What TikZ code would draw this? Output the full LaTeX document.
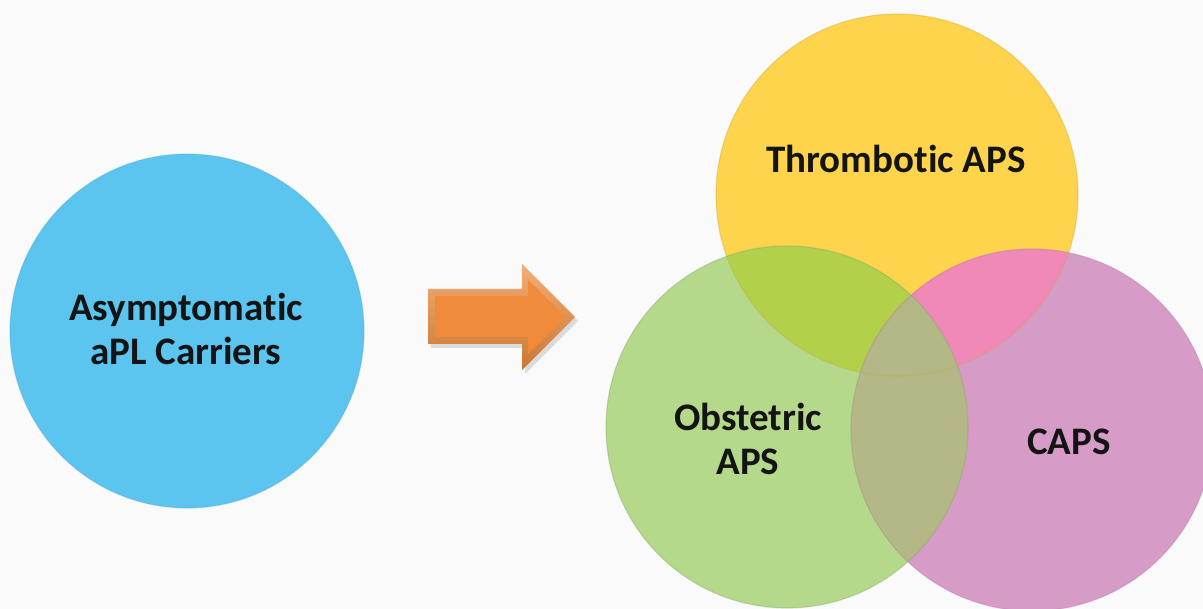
\documentclass[tikz,border=0pt]{standalone}
\usepackage{fontspec}
\setmainfont[Ligatures=NoCommon]{Carlito}
\usetikzlibrary{positioning}

\definecolor{carrierblue}{HTML}{5BC5F0}
\definecolor{thrombyellow}{HTML}{FDD44B}
\definecolor{obstgreen}{HTML}{B5D98A}
\definecolor{capspink}{HTML}{D79BC8}
\definecolor{yellowgreen}{HTML}{B3D04A}
\definecolor{yellowpink}{HTML}{F088B8}
\definecolor{greenpink}{HTML}{B3B886}
\definecolor{arroworange}{HTML}{EF8B3B}

\tikzset{
  venn/.style={circle, minimum size=362pt, inner sep=0pt},
  rim/.style={draw=#1, line width=1.2pt, opacity=0.35},
  lbl/.style={font=\fontsize{39}{44}\selectfont\bfseries, text=black!92, align=center}
}

\begin{document}
\begin{tikzpicture}[x=1pt,y=-1pt]
  \useasboundingbox[fill=black!2] (0,0) rectangle (1203,609);

  % left circle
  \node[venn, minimum size=354pt, fill=carrierblue] (carriers) at (187,331) {};
  \draw[rim=carrierblue!85!black] (carriers.center) circle (177pt);

  % arrow
  \coordinate (tail) at (428,317);
  \coordinate (tip) at (575,317);
  \fill[black, opacity=0.12] (431,293) -- (525,293) -- (525,268) -- (578,321)
    -- (525,374) -- (525,348) -- (431,348) -- cycle;
  \shade[top color=arroworange!70!white, bottom color=arroworange!85!black]
    (tail |- 0,289) -- (522,289) -- (522,264) -- (tip) -- (522,370)
    -- (522,344) -- (tail |- 0,344) -- cycle;
  \fill[arroworange] (435,296) -- (528,296) -- (528,280) -- (565,317)
    -- (528,354) -- (528,337) -- (435,337) -- cycle;

  % three overlapping circles
  \node[venn, fill=thrombyellow] (thrombotic) at (897,195) {};
  \node[venn, fill=capspink] (caps) at (1032,430) {};
  \node[venn, fill=obstgreen] (obstetric) at (787,427) {};

  \begin{scope}
    \clip (thrombotic.center) circle (181pt);
    \fill[yellowgreen] (obstetric.center) circle (181pt);
    \fill[yellowpink] (caps.center) circle (181pt);
  \end{scope}
  \begin{scope}
    \clip (obstetric.center) circle (181pt);
    \fill[greenpink] (caps.center) circle (181pt);
  \end{scope}

  \draw[rim=thrombyellow!80!black] (thrombotic.center) circle (181pt);
  \draw[rim=capspink!80!black] (caps.center) circle (181pt);
  \draw[rim=obstgreen!75!black] (obstetric.center) circle (181pt);

  % labels
  \node[lbl] (carrierslbl) at (186,329) {Asymptomatic\\aPL Carriers};
  \node[lbl] (thromblbl) at (896,159) {Thrombotic APS};
  \node[lbl] (obstlbl) at (748,439) {Obstetric\\APS};
  \node[lbl] (capslbl) at (1069,442) {CAPS};
\end{tikzpicture}
\end{document}
